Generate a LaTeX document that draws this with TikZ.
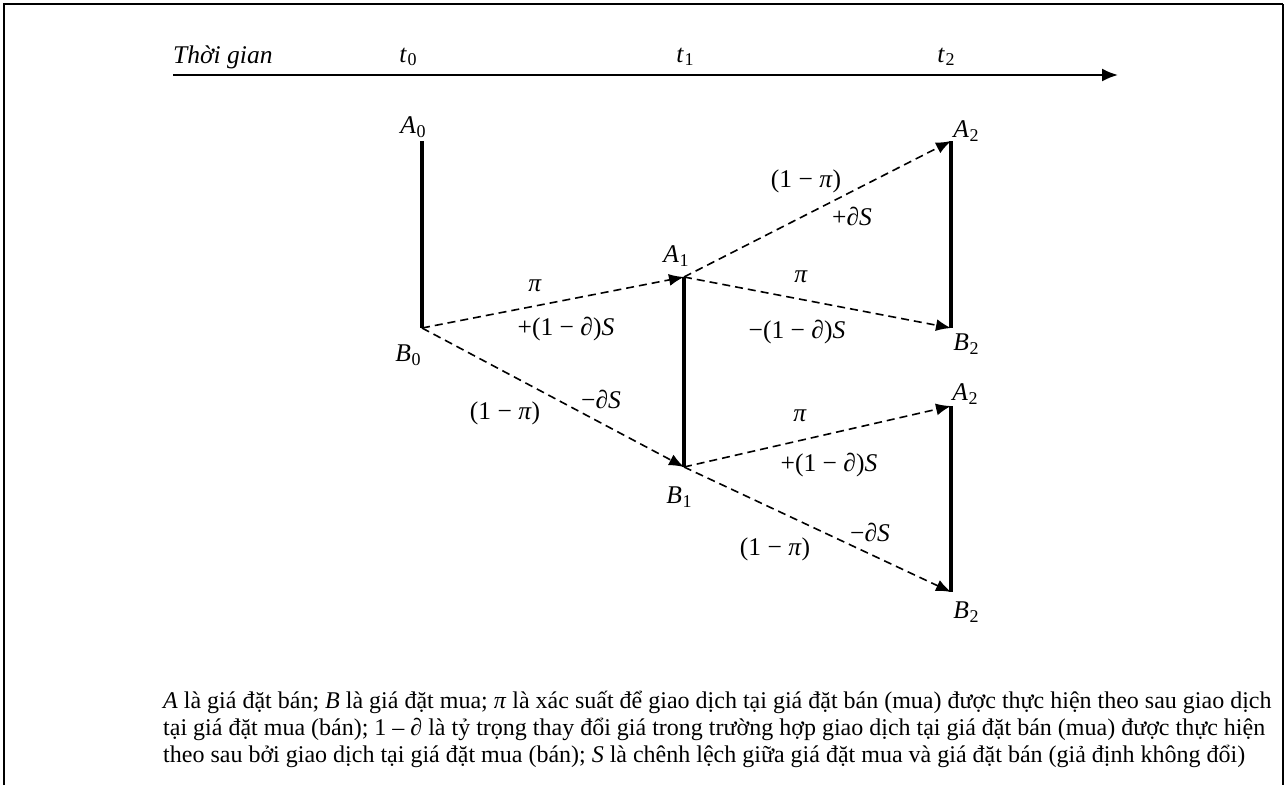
\documentclass[tikz,border=0pt]{standalone}
\usepackage{fontspec}
\setmainfont{Liberation Serif}
\usetikzlibrary{arrows.meta}
\newcommand{\ital}[1]{\textit{#1}}
\newcommand{\lb}[2]{\textit{#1}\kern0.5pt\raisebox{-0.3ex}{\upshape\fontsize{18}{18}\selectfont #2}}
\begin{document}
\begin{tikzpicture}[x=1pt,y=-1pt,
  lbl/.style={inner sep=0pt,font=\fontsize{25.5}{30}\selectfont},
  bar/.style={line width=3.8pt},
  move/.style={dashed,dash pattern=on 8pt off 5pt,line width=1.6pt,-{Latex[length=15pt,width=12pt]}},
  txt/.style={anchor=base west,inner sep=0pt,font=\fontsize{24}{27}\selectfont}]
\useasboundingbox (0,0) rectangle (1286,785);
% frame
\draw[line width=2.5pt] (4,785) -- (4,4) -- (1283,4);
\draw[line width=1.2pt] (1283,4) -- (1283,785);
% time axis
\coordinate (ts) at (173,75);
\coordinate (te) at (1118,75);
\draw[line width=2pt,-{Latex[length=16pt,width=13pt]}] (ts) -- (te);
\node[lbl,anchor=west] (tg) at (173,57) {\ital{Thời gian}};
\node[lbl] (t0) at (408,57) {\lb{t}{0}};
\node[lbl] (t1) at (685,57) {\lb{t}{1}};
\node[lbl] (t2) at (946,57) {\lb{t}{2}};
% points
\coordinate (A0) at (422,141);
\coordinate (B0) at (422,328);
\coordinate (A1) at (684,277);
\coordinate (B1) at (684,467);
\coordinate (A2u) at (951,141);
\coordinate (B2u) at (951,328);
\coordinate (A2d) at (951,406);
\coordinate (B2d) at (951,592);
% vertical bars
\draw[bar] (A0) -- (B0);
\draw[bar] (A1) -- (B1);
\draw[bar] (A2u) -- (B2u);
\draw[bar] (A2d) -- (B2d);
% point labels
\node[lbl] (lA0) at (413,127) {\lb{A}{0}};
\node[lbl] (lB0) at (408,355) {\lb{B}{0}};
\node[lbl] (lA1) at (676,256) {\lb{A}{1}};
\node[lbl] (lB1) at (679,497) {\lb{B}{1}};
\node[lbl] (lA2u) at (966,131) {\lb{A}{2}};
\node[lbl] (lB2u) at (966,344) {\lb{B}{2}};
\node[lbl] (lA2d) at (965,394) {\lb{A}{2}};
\node[lbl] (lB2d) at (966,612) {\lb{B}{2}};
% moves
\draw[move] (B0) -- (A1);
\draw[move] (B0) -- (B1);
\draw[move] (A1) -- (A2u);
\draw[move] (A1) -- (B2u);
\draw[move] (B1) -- (A2d);
\draw[move] (B1) -- (B2d);
% move labels
\node[lbl] (p1) at (535,286) {\ital{π}};
\node[lbl] (s1) at (566,329) {+(1 − \ital{∂})\ital{S}};
\node[lbl] (s2) at (601,399) {−\ital{∂S}};
\node[lbl] (p2) at (505,413) {(1 − \ital{π})};
\node[lbl] (p3) at (806,181) {(1 − \ital{π})};
\node[lbl] (s3) at (852,216) {+\ital{∂S}};
\node[lbl] (p4) at (801,277) {\ital{π}};
\node[lbl] (s4) at (797,332) {−(1 − \ital{∂})\ital{S}};
\node[lbl] (p5) at (800,416) {\ital{π}};
\node[lbl] (s5) at (829,465) {+(1 − \ital{∂})\ital{S}};
\node[lbl] (s6) at (870,532) {−\ital{∂S}};
\node[lbl] (p6) at (775,549) {(1 − \ital{π})};
% caption
\node[txt] (c1) at (163,708) {\ital{A} là giá đặt bán; \ital{B} là giá đặt mua; \ital{π} là xác suất để giao dịch tại giá đặt bán (mua) được thực hiện theo sau giao dịch};
\node[txt] (c2) at (163,735) {tại giá đặt mua (bán); 1 – \ital{∂} là tỷ trọng thay đổi giá trong trường hợp giao dịch tại giá đặt bán (mua) được thực hiện};
\node[txt] (c3) at (163,762) {theo sau bởi giao dịch tại giá đặt mua (bán); \ital{S} là chênh lệch giữa giá đặt mua và giá đặt bán (giả định không đổi)};
\end{tikzpicture}
\end{document}
